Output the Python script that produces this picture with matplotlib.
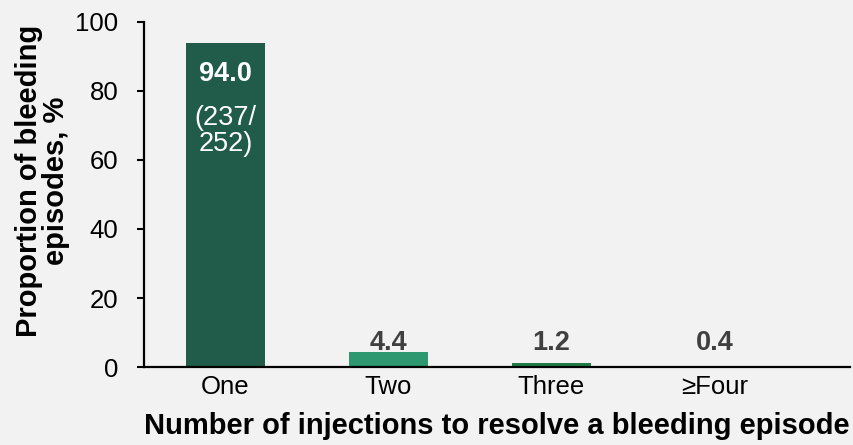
import matplotlib
matplotlib.use("Agg")
import matplotlib.pyplot as plt

plt.rcParams['font.family'] = ['Liberation Sans', 'DejaVu Sans']

categories = ["One", "Two", "Three", "\u2265Four"]
proportions = [94.0, 4.4, 1.2, 0.4]
value_labels = ["94.0", "4.4", "1.2", "0.4"]
count_label = "(237/\n252)"
bar_colors = ["#215B4A", "#2E9870", "#1E7B45", "#2E9870"]
y_ticks = [0, 20, 40, 60, 80, 100]

bg = "#F2F2F2"
fig = plt.figure(figsize=(8.54, 4.45), dpi=100, facecolor=bg)
ax = fig.add_axes([0.1686, 0.175, 0.8264, 0.776], facecolor=bg)

x = range(len(categories))
ax.bar(x, proportions, width=0.49, color=bar_colors, zorder=2)

ax.set_xlim(-0.5, 3.83)
ax.set_ylim(0, 100)
ax.set_yticks(y_ticks)
ax.set_xticks(list(x))
ax.set_xticklabels(categories)
ax.tick_params(axis='y', direction='out', length=5, width=1.5, labelsize=18.5, pad=13.5)
ax.tick_params(axis='x', length=0, labelsize=18.5, pad=6)

for side in ("top", "right"):
    ax.spines[side].set_visible(False)
for side in ("left", "bottom"):
    ax.spines[side].set_linewidth(1.6)

# Value inside the tall bar
ax.text(0, 85.0, value_labels[0], ha='center', va='center', color='white',
        fontsize=19.5, fontweight='bold')
ax.text(0, 68.3, count_label, ha='center', va='center', color='white',
        fontsize=19.5, linespacing=1.0)

# Values above the short bars
for i in range(1, len(proportions)):
    ax.text(i, 4.9, value_labels[i], ha='center', va='baseline', color='#404040',
            fontsize=19.5, fontweight='bold')

ax.set_ylabel("Proportion of bleeding\nepisodes, %", fontsize=21, fontweight='bold',
              linespacing=0.95)
ax.yaxis.set_label_coords(-0.105, 0.539)
ax.set_xlabel("Number of injections to resolve a bleeding episode", fontsize=21,
              fontweight='bold', labelpad=9)

fig.savefig("out.png", dpi=100, facecolor=bg)
